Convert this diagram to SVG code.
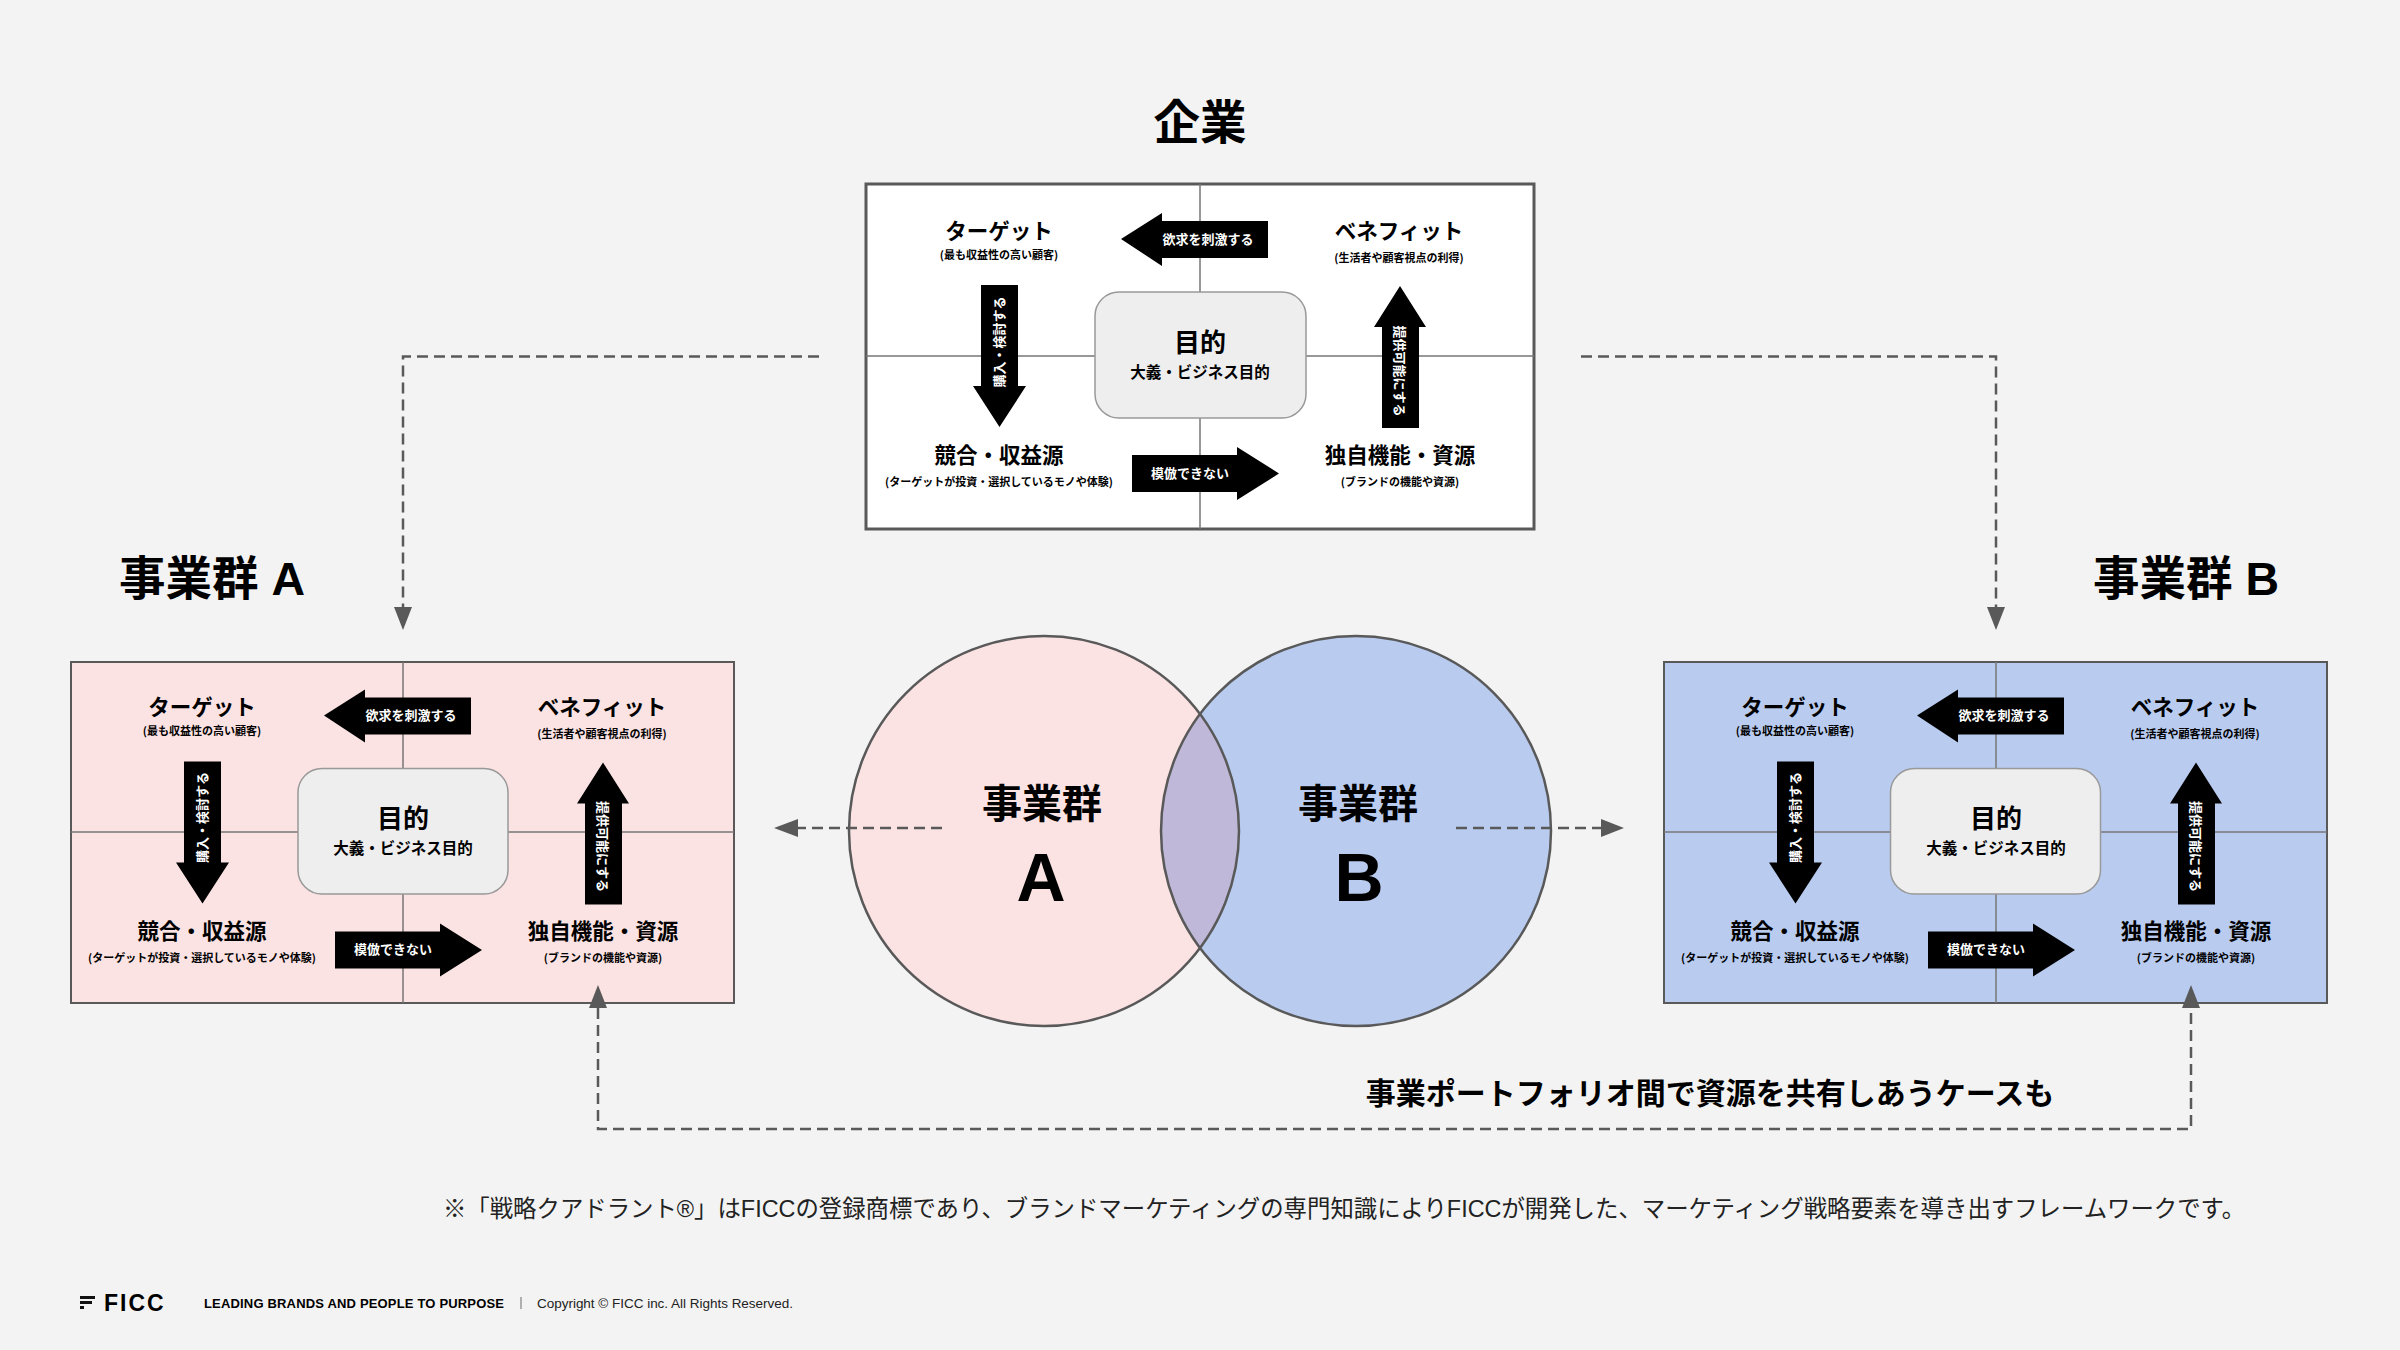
<svg xmlns="http://www.w3.org/2000/svg" width="2400" height="1350" viewBox="0 0 2400 1350">
<style>
text{font-family:"Noto Sans CJK JP","Noto Sans CJK SC",sans-serif;fill:#000;text-anchor:middle}
.h{font-family:"Liberation Sans","Noto Sans CJK JP",sans-serif;font-size:46.500px;font-weight:700}
.c{font-size:40px;font-weight:700}
.l{font-family:"Liberation Sans",sans-serif;font-size:68px;font-weight:700}
.t{font-size:21.500px;font-weight:700}
.s{font-size:11px;font-weight:700}
.g{font-size:26px;font-weight:700}
.m{font-size:15.500px;font-weight:700}
.a{font-size:13px;font-weight:700;fill:#fff}
.ar{fill:#000}
.cross{stroke:#777;stroke-width:1.5;fill:none}
.ctr{fill:#eee;stroke:#999;stroke-width:1.5}
.box{stroke:#595959}
.dash{fill:none;stroke:#595959;stroke-width:2.5;stroke-dasharray:11 6}
.head{fill:#595959}
.cir{fill:none;stroke:#595959;stroke-width:2.5}
.ft{font-family:"Liberation Sans",sans-serif;text-anchor:start}
.note{font-family:"Liberation Sans","Noto Sans CJK JP",sans-serif;font-size:23.400px;fill:#222}
</style>
<rect width="2400" height="1350" fill="#f3f3f3"/>

<g id="title-corp"><text class="h" x="1200" y="139">企業</text></g>
<g id="title-a"><text class="h" x="212" y="595">事業群 A</text></g>
<g id="title-b"><text class="h" x="2186" y="595">事業群 B</text></g>

<g id="panel-corp">
<rect class="box" x="866" y="184" width="668" height="345" fill="#fff" stroke-width="3"/>
<path class="cross" d="M1200 184V529M866 356H1534"/>
<rect class="ctr" x="1095" y="292" width="211" height="126" rx="24"/>
<path class="ar" d="M1121 239L1162 213V221H1268V258H1162V266Z"/>
<path class="ar" d="M981 285H1018V386H1026L999.5 427L973 386H981Z"/>
<path class="ar" d="M1400 286L1426 327H1419V428H1382V327H1374Z"/>
<path class="ar" d="M1132 455H1237V447L1279 473.500L1237 500V492H1132Z"/>
<text class="t" x="999" y="239">ターゲット</text><text class="s" x="999" y="259">(最も収益性の高い顧客)</text>
<text class="t" x="1399" y="239">ベネフィット</text><text class="s" x="1399" y="262">(生活者や顧客視点の利得)</text>
<text class="t" x="999" y="463">競合・収益源</text><text class="s" x="999" y="486">(ターゲットが投資・選択しているモノや体験)</text>
<text class="t" x="1400" y="463">独自機能・資源</text><text class="s" x="1400" y="486">(ブランドの機能や資源)</text>
<text class="g" x="1200" y="352">目的</text><text class="m" x="1200" y="378">大義・ビジネス目的</text>
<text class="a" x="1208" y="244">欲求を刺激する</text><text class="a" x="1190" y="478">模倣できない</text>
<text class="a" transform="translate(1004 342) rotate(-90)">購入・検討する</text>
<text class="a" transform="translate(1395 371) rotate(90)">提供可能にする</text>
</g>

<g id="panel-a">
<rect class="box" x="71" y="662" width="663" height="341" fill="#fce3e3" stroke-width="2"/>
<path class="cross" d="M403 662V1003M71 832H734"/>
<g transform="translate(-797 476.500)">
<rect class="ctr" x="1095" y="292" width="210" height="125.500" rx="24"/>
<path class="ar" d="M1121 239L1162 213V221H1268V258H1162V266Z"/>
<path class="ar" d="M981 285H1018V386H1026L999.5 427L973 386H981Z"/>
<path class="ar" d="M1400 286L1426 327H1419V428H1382V327H1374Z"/>
<path class="ar" d="M1132 455H1237V447L1279 473.500L1237 500V492H1132Z"/>
<g transform="translate(0 -1)">
<text class="t" x="999" y="239">ターゲット</text><text class="s" x="999" y="259">(最も収益性の高い顧客)</text>
<text class="t" x="1399" y="239">ベネフィット</text><text class="s" x="1399" y="262">(生活者や顧客視点の利得)</text>
<text class="t" x="999" y="463">競合・収益源</text><text class="s" x="999" y="486">(ターゲットが投資・選択しているモノや体験)</text>
<text class="t" x="1400" y="463">独自機能・資源</text><text class="s" x="1400" y="486">(ブランドの機能や資源)</text>
<text class="g" x="1200" y="352">目的</text><text class="m" x="1200" y="378">大義・ビジネス目的</text>
<text class="a" x="1208" y="244">欲求を刺激する</text><text class="a" x="1190" y="478">模倣できない</text>
<text class="a" transform="translate(1004 342) rotate(-90)">購入・検討する</text>
<text class="a" transform="translate(1395 371) rotate(90)">提供可能にする</text>
</g>
</g>
</g>

<g id="panel-b">
<rect class="box" x="1664" y="662" width="663" height="341" fill="#b9ccf0" stroke-width="2"/>
<path class="cross" d="M1996 662V1003M1664 832H2327"/>
<g transform="translate(796 476.500)">
<rect class="ctr" x="1094.500" y="292" width="210" height="125.500" rx="24"/>
<path class="ar" d="M1121 239L1162 213V221H1268V258H1162V266Z"/>
<path class="ar" d="M981 285H1018V386H1026L999.5 427L973 386H981Z"/>
<path class="ar" d="M1400 286L1426 327H1419V428H1382V327H1374Z"/>
<path class="ar" d="M1132 455H1237V447L1279 473.500L1237 500V492H1132Z"/>
<g transform="translate(0 -1)">
<text class="t" x="999" y="239">ターゲット</text><text class="s" x="999" y="259">(最も収益性の高い顧客)</text>
<text class="t" x="1399" y="239">ベネフィット</text><text class="s" x="1399" y="262">(生活者や顧客視点の利得)</text>
<text class="t" x="999" y="463">競合・収益源</text><text class="s" x="999" y="486">(ターゲットが投資・選択しているモノや体験)</text>
<text class="t" x="1400" y="463">独自機能・資源</text><text class="s" x="1400" y="486">(ブランドの機能や資源)</text>
<text class="g" x="1200" y="352">目的</text><text class="m" x="1200" y="378">大義・ビジネス目的</text>
<text class="a" x="1208" y="244">欲求を刺激する</text><text class="a" x="1190" y="478">模倣できない</text>
<text class="a" transform="translate(1004 342) rotate(-90)">購入・検討する</text>
<text class="a" transform="translate(1395 371) rotate(90)">提供可能にする</text>
</g>
</g>
</g>

<g id="venn">
<circle cx="1044" cy="831" r="195" fill="#fce3e3"/>
<circle cx="1356" cy="831" r="195" fill="#b9ccf0"/>
<path d="M1200 714A195 195 0 0 1 1200 948A195 195 0 0 1 1200 714Z" fill="#bfb8d8"/>
<circle class="cir" cx="1044" cy="831" r="195"/>
<circle class="cir" cx="1356" cy="831" r="195"/>
<text class="c" x="1042" y="818">事業群</text>
<text class="l" x="1041" y="901">A</text>
<text class="c" x="1358" y="818">事業群</text>
<text class="l" x="1359" y="901">B</text>
</g>

<g id="connectors">
<path class="dash" d="M819 356.500H403V608"/>
<path class="head" d="M394 607H412L403 630Z"/>
<path class="dash" d="M1581 356.500H1996V608"/>
<path class="head" d="M1987 607H2005L1996 630Z"/>
<path class="dash" d="M598 1008V1129H2191V1008"/>
<path class="head" d="M589 1008H607L598 985Z"/>
<path class="head" d="M2182 1008H2200L2191 985Z"/>
<path class="dash" d="M942 828H798"/>
<path class="head" d="M798 819V837L774 828Z"/>
<path class="dash" d="M1456 828H1602"/>
<path class="head" d="M1601 819V837L1624 828Z"/>
</g>

<g id="labels">
<text x="1710" y="1104" font-size="30" font-weight="700">事業ポートフォリオ間で資源を共有しあうケースも</text>
<text class="note" x="1344" y="1216.500">※「戦略クアドラント®」はFICCの登録商標であり、ブランドマーケティングの専門知識によりFICCが開発した、マーケティング戦略要素を導き出すフレームワークです。</text>
</g>

<g id="footer">
<path fill="#111" d="M80 1296H95V1299H80ZM80 1301H92V1304H80ZM80 1306H84V1309H80Z"/>
<text class="ft" x="104" y="1311" font-size="23" letter-spacing="2" font-weight="700">FICC</text>
<text class="ft" x="204" y="1308" font-size="13" font-weight="700" textLength="300">LEADING BRANDS AND PEOPLE TO PURPOSE</text>
<path d="M521 1297V1309" stroke="#999" stroke-width="1.5"/>
<text class="ft" x="537" y="1307.500" font-size="13.500" style="fill:#222" textLength="256">Copyright © FICC inc. All Rights Reserved.</text>
</g>
</svg>
